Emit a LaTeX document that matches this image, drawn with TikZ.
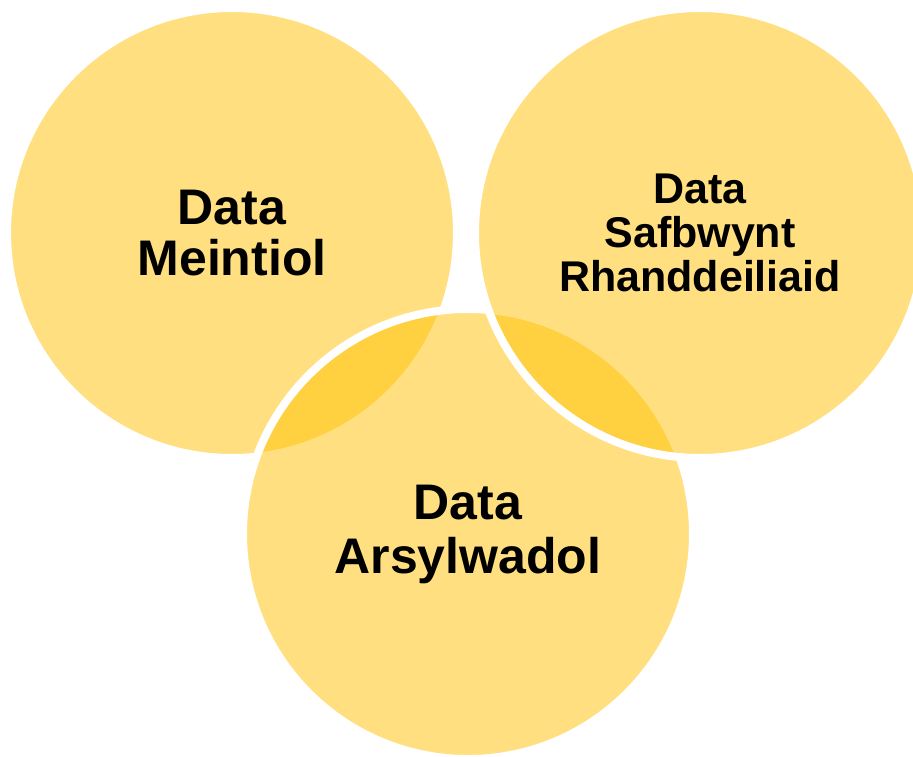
\documentclass[tikz,border=0pt]{standalone}
\usepackage{fontspec}
\setmainfont{Liberation Sans}
\definecolor{vennyellow}{HTML}{FFC000}

\begin{document}
\begin{tikzpicture}[x=1pt, y=1pt,
                    venn node/.style={circle,draw=white,line width=8pt,fill=vennyellow,fill opacity=0.5,text opacity=1,
                                      minimum size=450pt,inner sep=0pt,align=center}]

  \useasboundingbox (0,0) rectangle (913,756);

  \node[venn node,font=\fontsize{50}{51}\selectfont\bfseries] (meintiol) at (232,523) {Data\\Meintiol};
  \node[venn node,font=\fontsize{50}{54}\selectfont\bfseries] (arsylwadol) at (468,222) {Data\\Arsylwadol};
  \node[venn node,font=\fontsize{43}{44}\selectfont\bfseries] (safbwynt) at (700,523) {Data\\Safbwynt\\Rhanddeiliaid};

\end{tikzpicture}
\end{document}
